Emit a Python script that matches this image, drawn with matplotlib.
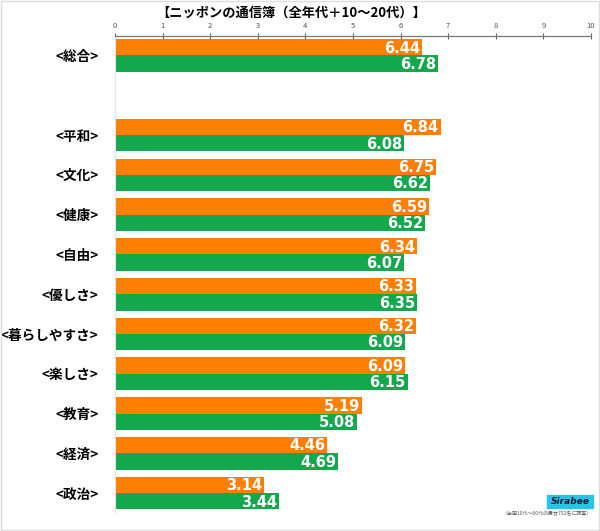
import matplotlib
matplotlib.use("Agg")
import matplotlib.pyplot as plt
from matplotlib.patches import Rectangle
import numpy as np

plt.rcParams["font.family"] = ["Noto Sans CJK JP", "DejaVu Sans"]

categories = ["<総合>", "", "<平和>", "<文化>", "<健康>", "<自由>", "<優しさ>",
              "<暮らしやすさ>", "<楽しさ>", "<教育>", "<経済>", "<政治>"]
all_ages = [6.44, None, 6.84, 6.75, 6.59, 6.34, 6.33, 6.32, 6.09, 5.19, 4.46, 3.14]
young = [6.78, None, 6.08, 6.62, 6.52, 6.07, 6.35, 6.09, 6.15, 5.08, 4.69, 3.44]
xticks = list(range(0, 11))

ORANGE = "#FF7F05"
GREEN = "#13A84E"

fig = plt.figure(figsize=(6.0, 5.31), dpi=100)
ax = fig.add_axes([115 / 600, 1 - 513 / 531, (591 - 115) / 600, (513 - 36) / 531])

h = 0.41
y = np.arange(len(categories))
for yi, a, b in zip(y, all_ages, young):
    if a is None:
        continue
    ax.barh(yi - h / 2, a, height=h, color=ORANGE, edgecolor="none")
    ax.barh(yi + h / 2, b, height=h, color=GREEN, edgecolor="none")
    for off, v in ((-h / 2, a), (h / 2, b)):
        ax.text(v - 0.04, yi + off + 0.02, f"{v:.2f}", color="white", fontsize=10.5,
                fontweight="bold", ha="right", va="center", family=["DejaVu Sans"])

ax.set_xlim(0, 10)
ax.set_ylim(11.5, -0.49)
ax.set_xticks(xticks)
ax.xaxis.tick_top()
ax.tick_params(axis="x", direction="inout", length=5, width=0.8, color="#666666",
               labelsize=5.5, labelcolor="#555555", pad=1.5)
ax.set_yticks(y)
ax.set_yticklabels(categories, fontsize=9.8, fontweight="bold")
ax.tick_params(axis="y", length=0, pad=12)
for s in ("right", "bottom"):
    ax.spines[s].set_visible(False)
ax.spines["top"].set_color("#777777")
ax.spines["top"].set_linewidth(0.9)
ax.spines["left"].set_color("#e4e4e4")
ax.spines["left"].set_linewidth(0.8)

fig.text(291 / 600, 1 - 12.5 / 531, "【ニッポンの通信簿（全年代＋10～20代）】",
         ha="center", va="center", fontsize=9.5, fontweight="bold")

# logo + footnote
fig.patches.append(Rectangle((547 / 600, 1 - 508 / 531), 46 / 600, 13 / 531,
                             transform=fig.transFigure, color="#29C3E8", zorder=3))
fig.text(570 / 600, 1 - 501.5 / 531, "Sirabee", ha="center", va="center",
         fontsize=6.5, fontstyle="italic", fontweight="bold", color="#1a1a2e",
         family=["DejaVu Sans"], zorder=4)
fig.text(592 / 600, 1 - 514 / 531, "（全国10代～60代の男女752名に調査）",
         ha="right", va="center", fontsize=3.6, color="#555555")

fig.patches.append(Rectangle((0.001, 0.001), 0.998, 0.998, transform=fig.transFigure,
                             fill=False, edgecolor="#dddddd", linewidth=1))

fig.savefig("out.png", dpi=100)
